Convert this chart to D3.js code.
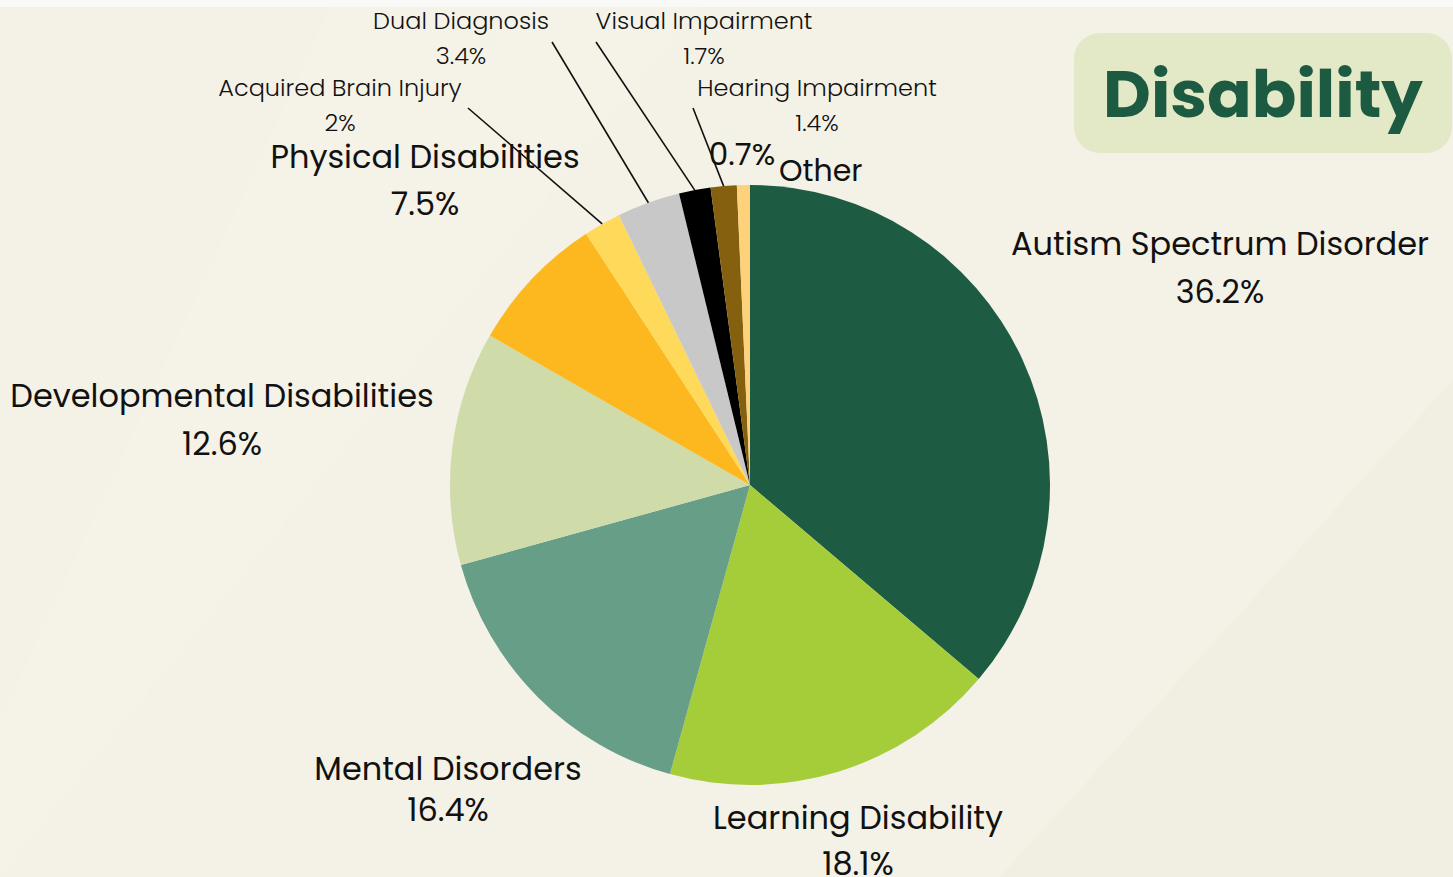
<!DOCTYPE html>
<html>
<head>
<meta charset="utf-8">
<script src="https://cdn.jsdelivr.net/npm/d3@7"></script>
<style>
  body { margin: 0; background: #f9f9f7; }
  text { font-family: "Poppins", "Lato", "Noto Sans", sans-serif; fill: #111; }
</style>
</head>
<body>
<div class="chart"></div>
<script>
var svgWidth = 1453;
var svgHeight = 877;

// data
var categories = ["Autism Spectrum Disorder", "Learning Disability", "Mental Disorders",
  "Developmental Disabilities", "Physical Disabilities", "Acquired Brain Injury",
  "Dual Diagnosis", "Visual Impairment", "Hearing Impairment", "Other"];
var values = [36.2, 18.1, 16.4, 12.6, 7.5, 2, 3.4, 1.7, 1.4, 0.7];
var colors = ["#1d5c42", "#a5cd3a", "#669e87", "#cfdba9", "#fdb81f", "#ffd95a",
  "#c8c8c8", "#000000", "#85610f", "#fdd27a"];

// label layout: name baseline, gap to value line, size, leader line end
var labelLayout = [
  {x: 1220, y: 255, gap: 48, size: 32},
  {x: 858, y: 829, gap: 46, size: 32},
  {x: 448, y: 780, gap: 41, size: 32},
  {x: 222, y: 407, gap: 48, size: 32},
  {x: 425, y: 168, gap: 47, size: 32},
  {x: 340, y: 96, gap: 35, size: 24, lx: 468, ly: 108},
  {x: 461, y: 29, gap: 35, size: 24, lx: 552, ly: 42},
  {x: 704, y: 29, gap: 35, size: 24, lx: 596, ly: 42},
  {x: 817, y: 96, gap: 35, size: 24, lx: 693, ly: 108},
  {other: true}
];

var cx = 750, cy = 485, radius = 300;

var svg = d3.select(".chart")
  .append("svg")
  .attr("width", svgWidth)
  .attr("height", svgHeight);

// background
svg.append("rect")
  .attr("x", 0).attr("y", 7)
  .attr("width", svgWidth).attr("height", svgHeight - 7)
  .attr("fill", "#f4f1e6");

var bg = svg.append("g").attr("opacity", 0.3);
bg.append("path")
  .attr("d", "M0,720 L330,7 L700,7 L0,877 Z")
  .attr("fill", "#f8f6ee");
bg.append("path")
  .attr("d", "M1000,877 L1453,380 L1453,877 Z")
  .attr("fill", "#ece9dc");

var pie = d3.pie().sort(null).value(d => d);
var arcs = pie(values);

var arc = d3.arc().innerRadius(0).outerRadius(radius);

var pieGroup = svg.append("g")
  .attr("transform", `translate(${cx}, ${cy})`);

pieGroup.selectAll("path")
  .data(arcs)
  .enter()
  .append("path")
  .attr("d", arc)
  .attr("fill", (d, i) => colors[i]);

// leader lines for the small slices
arcs.forEach(function(d, i) {
  var L = labelLayout[i];
  if (L.lx === undefined) return;
  var mid = (d.startAngle + d.endAngle) / 2;
  var px = cx + radius * Math.sin(mid);
  var py = cy - radius * Math.cos(mid);
  svg.append("line")
    .attr("x1", L.lx).attr("y1", L.ly)
    .attr("x2", px).attr("y2", py)
    .attr("stroke", "#111")
    .attr("stroke-width", 1.6);
});

// labels
var labels = svg.append("g");
arcs.forEach(function(d, i) {
  var L = labelLayout[i];
  if (L.other) return;
  var weight = L.size > 25 ? 400 : 300;
  labels.append("text")
    .attr("x", L.x).attr("y", L.y)
    .attr("text-anchor", "middle")
    .attr("font-size", L.size)
    .attr("font-weight", weight)
    .text(categories[i]);
  labels.append("text")
    .attr("x", L.x).attr("y", L.y + L.gap)
    .attr("text-anchor", "middle")
    .attr("font-size", L.size)
    .attr("font-weight", weight)
    .text(values[i] + "%");
});

// "Other" slice label sits oddly split in the original
labels.append("text")
  .attr("x", 742).attr("y", 165)
  .attr("text-anchor", "middle")
  .attr("font-size", 31)
  .text(values[9] + "%");
labels.append("text")
  .attr("x", 779).attr("y", 181)
  .attr("font-size", 30)
  .text(categories[9]);

// title box
svg.append("rect")
  .attr("x", 1074).attr("y", 33)
  .attr("width", 378).attr("height", 120)
  .attr("rx", 26)
  .attr("fill", "#e3e9c6");

var title = svg.append("text")
  .attr("x", 1263).attr("y", 117)
  .attr("text-anchor", "middle")
  .attr("font-size", 66)
  .attr("font-weight", 700)
  .style("fill", "#1c5b41")
  .text("Disability");

// fit title width to the box like the original
var tw = title.node().getComputedTextLength();
title.attr("font-size", 66 * 320 / tw);
</script>
</body>
</html>
